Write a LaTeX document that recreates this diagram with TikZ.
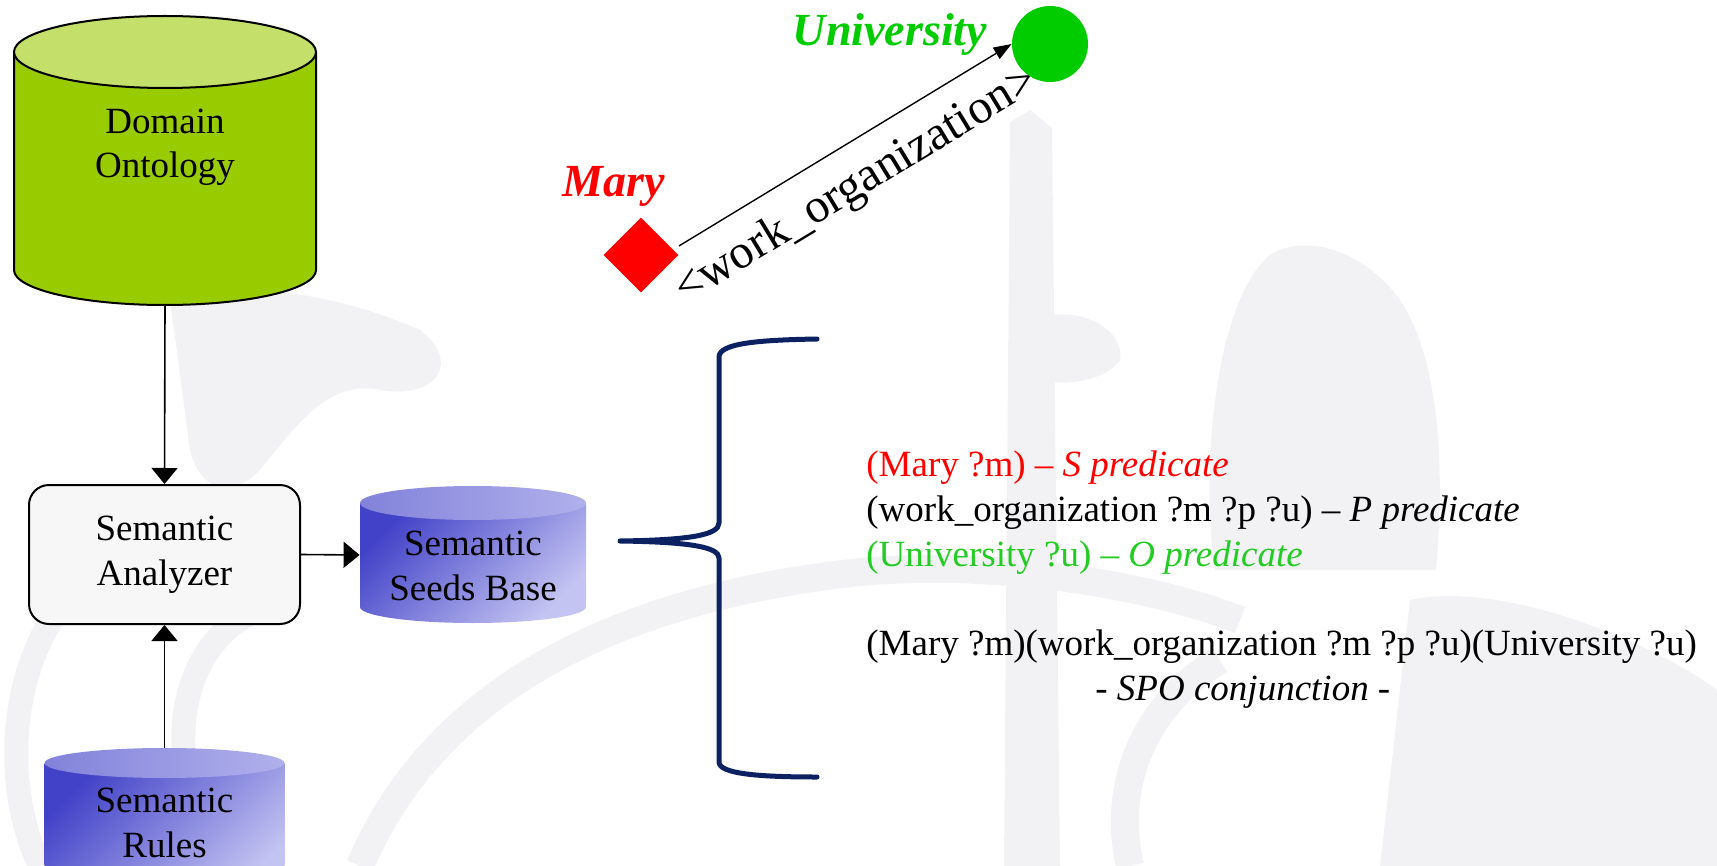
\documentclass[tikz,border=0pt]{standalone}
\usepackage{fontspec}
\setmainfont{Liberation Serif}
\usetikzlibrary{arrows.meta,shapes.geometric,calc}
\pgfdeclarelayer{bg}
\pgfdeclarelayer{wmark}
\pgfsetlayers{wmark,bg,main}
\definecolor{ontobody}{HTML}{99CC00}
\definecolor{ontotop}{HTML}{C4E06A}
\definecolor{seeddark}{HTML}{4242C8}
\definecolor{seedlight}{HTML}{C4C4F2}
\definecolor{seedtopl}{HTML}{8282DA}
\definecolor{seedtopr}{HTML}{B0B0EC}
\definecolor{bracecol}{HTML}{0B2161}
\definecolor{maryred}{HTML}{FF0000}
\definecolor{unigreen}{HTML}{00CC00}
\definecolor{txtgreen}{HTML}{22CC22}
\definecolor{wmgrey}{HTML}{F2F2F4}
\begin{document}
\begin{tikzpicture}[x=0.5pt,y=-0.5pt,
  lbl/.style={font=\fontsize{18.5}{22.25}\selectfont, align=center, inner sep=0pt},
  predline/.style={font=\fontsize{18.5}{22.25}\selectfont, anchor=base west, inner sep=0pt},
  flow/.style={line width=0.8pt, -{Triangle[length=8pt,width=13pt]}},
  relarrow/.style={line width=0.7pt, -{Triangle[length=9pt,width=6.5pt]}},
  hole/.style={draw=none, inner sep=0pt, rectangle},
  sabox/.style={draw, line width=1pt, rounded corners=10pt, fill=black!3,
    font=\fontsize{18.5}{22.25}\selectfont, align=center, inner sep=0pt},
  entity/.style={font=\bfseries\itshape\fontsize{23}{27}\selectfont, anchor=base, inner sep=0pt},
  wm/.style={fill=wmgrey, draw=none},
]
\useasboundingbox (0,0) rectangle (1717,866);
\clip (0,0) rectangle (1717,866);

% faint background figure
\begin{pgfonlayer}{wmark}
\draw[wmgrey, line width=14pt] (360,866) .. controls (430,700) and (600,600) .. (860,572)
  .. controls (1000,560) and (1150,585) .. (1240,620);
\draw[wmgrey, line width=12pt] (40,866) .. controls (-10,760) and (20,600) .. (120,560);
\draw[wmgrey, line width=12pt] (250,866) .. controls (150,800) and (170,640) .. (260,610);
\fill[wm] (170,300) .. controls (230,280) and (330,290) .. (420,330)
  .. controls (460,360) and (440,400) .. (380,390) .. controls (330,380) and (300,420) .. (260,470)
  .. controls (230,500) and (200,490) .. (190,450) -- cycle;
\fill[wm] (1010,122) -- (1030,110) -- (1052,128) -- (1060,866) -- (1004,866) -- cycle;
\fill[wm] (1024,322) .. controls (1080,300) and (1125,330) .. (1120,360)
  .. controls (1100,388) and (1040,386) .. (1024,376) -- cycle;
\fill[wm] (1215,570) .. controls (1200,470) and (1215,300) .. (1270,255)
  .. controls (1300,235) and (1360,245) .. (1400,300)
  .. controls (1440,360) and (1445,470) .. (1436,570) -- cycle;
\fill[wm] (1410,600) .. controls (1500,580) and (1650,640) .. (1717,690)
  -- (1717,866) -- (1380,866) -- cycle;
\draw[wmgrey, line width=14pt] (1130,866) .. controls (1110,780) and (1150,700) .. (1220,660);
\end{pgfonlayer}

% Domain Ontology cylinder
\fill[ontobody] (14,52) -- (14,270) arc[start angle=180,end angle=0,x radius=151,y radius=35] -- (316,52) -- cycle;
\draw[line width=1pt] (14,52) -- (14,270) arc[start angle=180,end angle=0,x radius=151,y radius=35] -- (316,52);
\filldraw[fill=ontotop, line width=1pt] (165,52) ellipse[x radius=151, y radius=36];
\node[hole, minimum width=151pt, minimum height=145pt] (onto) at (165,160) {};
\node[lbl] (ontotext) at (165,147) {Domain\\Ontology};

% Semantic Seeds Base cylinder
\shade[top color=seeddark, bottom color=seedlight, shading angle=45]
  (360,503) -- (360,607) arc[start angle=180,end angle=0,x radius=113,y radius=16] -- (586,503) -- cycle;
\shade[left color=seedtopl, right color=seedtopr] (473,503) ellipse[x radius=113, y radius=17];
\node[hole, minimum width=113pt, minimum height=68pt] (ssb) at (473,555) {};
\node[lbl] (ssbtext) at (473,566) {Semantic\\Seeds Base};

% Semantic Rules cylinder
\shade[top color=seeddark, bottom color=seedlight, shading angle=45]
  (44.5,763) -- (44.5,900) -- (284.5,900) -- (284.5,763) -- cycle;
\shade[left color=seedtopl, right color=seedtopr] (164.5,763) ellipse[x radius=120, y radius=15];
\node[hole, minimum width=120pt, minimum height=59pt] (rules) at (164.5,807) {};
\node[lbl] (rulestext) at (164.5,823) {Semantic\\Rules};

% Semantic Analyzer
\node[sabox, minimum width=135.5pt, minimum height=69.5pt] (sa) at (164.5,554.5) {Semantic\\Analyzer};

% flow connectors
\draw[flow] (onto.south) -- (sa.north);
\draw[flow] (rules.north) -- (sa.south);
\draw[flow] (sa.east) -- (ssb.west);

% subject / object of the relation
\node[diamond, fill=maryred, minimum size=37.5pt, inner sep=0pt] (mary) at (641,255) {};
\node[circle, fill=unigreen, minimum size=38pt, inner sep=0pt] (univ) at (1050,44) {};
\node[entity, text=maryred] (marylbl) at (614,197) {Mary};
\node[entity, text=unigreen] (unilbl) at (890,46) {University};
\begin{pgfonlayer}{bg}
\draw[relarrow] ([yshift=4.5pt]mary.east) -- (univ.west)
  node[pos=0.47, sloped, below=9.5pt, inner sep=0pt, font=\fontsize{24}{28}\selectfont] (rellbl) {<work\_organization>};
\end{pgfonlayer}

% brace
\coordinate (bracetip) at (620,541);
\draw[bracecol, line width=2.5pt, line cap=round, line join=round]
  (817,339) .. controls (760,340) and (719,343) .. (719,357) -- (719,523)
  .. controls (719,535) and (690,540) .. (bracetip)
  .. controls (690,542) and (719,547) .. (719,558) -- (719,762)
  .. controls (719,774) and (760,777) .. (817,777);

% predicates
\node[predline, text=maryred] (p1) at (866,476) {(Mary ?m) – \textit{S predicate}};
\node[predline] (p2) at (866,521) {(work\_organization ?m ?p ?u) – \textit{P predicate}};
\node[predline, text=txtgreen] (p3) at (866,566) {(University ?u) – \textit{O predicate}};
\node[predline] (spo) at (866,655) {(Mary ?m)(work\_organization ?m ?p ?u)(University ?u)};
\node[predline] (spolbl) at (1095,700) {- \textit{SPO conjunction} -};
\end{tikzpicture}
\end{document}
